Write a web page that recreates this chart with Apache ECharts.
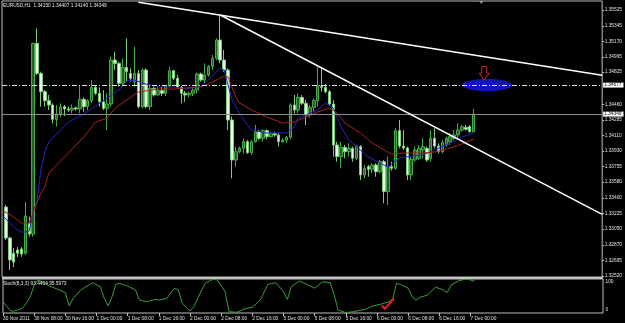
<!DOCTYPE html>
<html>
<head>
<meta charset="utf-8">
<script src="https://cdn.jsdelivr.net/npm/echarts@6/dist/echarts.min.js"></script>
<style>
html,body{margin:0;padding:0;background:#000;}
#chart{width:625px;height:323px;}
</style>
</head>
<body>
<div id="chart"></div>
<script>
// ---------- DATA ----------
const symbolName = 'EURUSD,H1';
const firstAxisLabel = '30 Nov 2011';
const dayNames = ['30 Nov','1 Dec','2 Dec','5 Dec','6 Dec','7 Dec','8 Dec'];
const slotCount = 155;           // hourly slots incl. empty future space
const firstBar = 1;              // first drawn candle slot
const lastLabelSlot = 120;       // last time label shown

const opens = [1.33299,1.32949,1.32776,1.32814,1.32825,1.32776,1.33115,1.32994,1.35148,1.34809,
1.34602,1.34501,1.34452,1.34290,1.34350,1.34433,1.34407,1.34395,1.34418,1.34407,
1.34516,1.34433,1.34501,1.34651,1.34584,1.34489,1.34414,1.34463,1.34960,1.34922,
1.34697,1.34877,1.34809,1.34715,1.34809,1.34433,1.34847,1.34433,1.34640,1.34565,
1.34614,1.34584,1.34666,1.34840,1.34753,1.34651,1.34584,1.34565,1.34584,1.34621,
1.34802,1.34734,1.34791,1.34885,1.34979,1.35186,1.34960,1.34847,1.34282,1.33830,
1.33924,1.33962,1.34037,1.33913,1.34037,1.34150,1.34075,1.34162,1.34094,1.34132,
1.34113,1.34037,1.34056,1.34086,1.34452,1.34395,1.34538,1.34471,1.34339,1.34425,
1.34501,1.34666,1.34651,1.34602,1.34463,1.34000,1.33868,1.33973,1.33924,1.33962,
1.33849,1.33981,1.33661,1.33755,1.33725,1.33774,1.33698,1.33811,1.33473,1.33755,
1.33736,1.34162,1.33988,1.33966,1.33661,1.33830,1.33849,1.33943,1.33962,1.33849,
1.34075,1.33988,1.33924,1.34000,1.34037,1.34075,1.34113,1.34169,1.34199,1.34207,
1.34150];
const highs = [1.33322,1.32964,1.32836,1.32847,1.32844,1.33356,1.33190,1.35156,1.35318,1.34828,
1.34621,1.34565,1.34471,1.34452,1.34471,1.34452,1.34433,1.34459,1.34433,1.34678,
1.34538,1.34516,1.34734,1.34678,1.34651,1.34621,1.34584,1.34998,1.35054,1.34941,
1.34979,1.35205,1.34866,1.35111,1.34847,1.34866,1.34866,1.34678,1.34659,1.34659,
1.34659,1.34678,1.34885,1.34847,1.34791,1.34666,1.34610,1.34602,1.34640,1.34817,
1.34817,1.34922,1.34904,1.35017,1.35205,1.35469,1.35073,1.34866,1.34320,1.33981,
1.33981,1.34075,1.34056,1.34056,1.34226,1.34169,1.34177,1.34177,1.34150,1.34150,
1.34139,1.34075,1.34101,1.34471,1.34565,1.34584,1.34565,1.34508,1.34452,1.34527,
1.34877,1.34866,1.34689,1.34621,1.34508,1.34037,1.34037,1.34000,1.34019,1.33981,
1.34000,1.34000,1.33774,1.33774,1.33793,1.33793,1.33830,1.33830,1.33868,1.33811,
1.34188,1.34282,1.34169,1.33981,1.33868,1.33981,1.34000,1.34075,1.33981,1.34169,
1.34188,1.34019,1.34056,1.34094,1.34132,1.34169,1.34245,1.34226,1.34226,1.34226,
1.34407];
const lows = [1.32927,1.32588,1.32621,1.32734,1.32738,1.32757,1.32964,1.32964,1.34791,1.34433,
1.34433,1.34395,1.34245,1.34207,1.34312,1.34327,1.34376,1.34358,1.34388,1.34358,
1.34376,1.34395,1.34471,1.34565,1.34433,1.34395,1.34169,1.34433,1.34847,1.34659,
1.34678,1.34715,1.34715,1.34659,1.34414,1.34414,1.34414,1.34395,1.34546,1.34553,
1.34553,1.34553,1.34651,1.34734,1.34640,1.34471,1.34489,1.34538,1.34553,1.34584,
1.34715,1.34697,1.34772,1.34847,1.34960,1.34922,1.34828,1.34169,1.33623,1.33755,
1.33906,1.33906,1.33898,1.33887,1.34026,1.34056,1.34037,1.34064,1.34083,1.34094,
1.33981,1.34026,1.34019,1.34064,1.34358,1.34358,1.34452,1.34226,1.34312,1.34376,
1.34433,1.34602,1.34584,1.34440,1.33868,1.33811,1.33736,1.33849,1.33868,1.33811,
1.33830,1.33604,1.33623,1.33642,1.33680,1.33642,1.33680,1.33341,1.33322,1.33710,
1.33717,1.33962,1.33943,1.33604,1.33604,1.33811,1.33830,1.33849,1.33811,1.33811,
1.33962,1.33906,1.33906,1.33981,1.34000,1.34056,1.34075,1.34150,1.34162,1.34139,
1.34140];
const closes = [1.32949,1.32701,1.32678,1.32776,1.32768,1.33198,1.32994,1.35148,1.34809,1.34602,
1.34501,1.34452,1.34290,1.34350,1.34433,1.34407,1.34395,1.34418,1.34407,1.34516,
1.34433,1.34501,1.34651,1.34584,1.34489,1.34414,1.34463,1.34960,1.34922,1.34697,
1.34877,1.34828,1.34753,1.34809,1.34433,1.34847,1.34433,1.34640,1.34565,1.34614,
1.34584,1.34666,1.34840,1.34753,1.34651,1.34584,1.34565,1.34584,1.34621,1.34802,
1.34734,1.34791,1.34885,1.34979,1.35186,1.34960,1.34847,1.34282,1.33830,1.33924,
1.33962,1.34037,1.33913,1.34037,1.34150,1.34075,1.34162,1.34094,1.34132,1.34113,
1.34037,1.34056,1.34086,1.34452,1.34395,1.34538,1.34471,1.34339,1.34425,1.34501,
1.34666,1.34651,1.34602,1.34463,1.34000,1.33868,1.33973,1.33924,1.33962,1.33849,
1.33981,1.33661,1.33736,1.33725,1.33774,1.33698,1.33811,1.33473,1.33755,1.33736,
1.34162,1.33988,1.33966,1.33661,1.33838,1.33943,1.33962,1.33981,1.33830,1.34075,
1.33988,1.33924,1.34026,1.34075,1.34094,1.34113,1.34169,1.34207,1.34177,1.34150,
1.34349];

const blueMaHours = [0,2,4,5,6,7,8,9,10,11,12,17,21,24,30,32,34,36,40,44,47,51,53,56,57,58,59,62,64,68,73,75,76,81,83,85,87,89,94,97,99,102,105,108,111,115,118,121];
const blueMaValues = [1.33208,1.33118,1.33039,1.33016,1.33016,1.33028,1.33242,1.33378,1.33717,1.33920,
1.34033,1.34259,1.34350,1.34440,1.34621,1.34723,1.34734,1.34700,1.34655,1.34655,
1.34632,1.34666,1.34734,1.34870,1.34847,1.34678,1.34508,1.34282,1.34169,1.34135,
1.34135,1.34203,1.34304,1.34395,1.34474,1.34418,1.34203,1.34056,1.33864,1.33796,
1.33751,1.33853,1.33875,1.33887,1.33943,1.34022,1.34090,1.34135];
const redMaHours = [0,3,5,7,8,9,10,11,12,17,21,24,27,29,32,35,40,44,47,51,54,57,58,59,60,61,64,68,72,75,78,81,84,86,88,92,95,99,100,103,105,108,111,115,118,121];
const redMaValues = [1.33265,1.33186,1.33118,1.33118,1.33242,1.33355,1.33457,1.33525,1.33683,1.33909,
1.34090,1.34259,1.34304,1.34418,1.34508,1.34598,1.34632,1.34632,1.34644,1.34655,
1.34711,1.34779,1.34768,1.34655,1.34542,1.34474,1.34395,1.34316,1.34248,1.34259,
1.34316,1.34372,1.34418,1.34361,1.34248,1.34135,1.34022,1.33920,1.33898,1.33909,
1.33909,1.33909,1.33920,1.33966,1.34011,1.34067];

const stochName = 'Stoch(8,3,3)';
const stochSignalLast = 95.5973;
const stochHours = [0,1,2,3,5,6,7,8,9,10,12,14,16,17,18,20,22,23,25,26,27,28,29,30,32,34,35,37,39,40,42,44,45,46,48,49,51,52,53,54,55,57,58,60,62,64,66,68,69,70,72,73,74,76,78,80,82,84,85,86,88,90,93,95,97,99,100,101,102,104,105,106,107,109,111,113,114,115,117,119,120,121];
const stochValues = [33,19,6,6,14,29,48,82,97,92,79,70,60,21,43,68,82,89,77,43,21,48,85,87,79,68,38,33,40,38,43,73,68,29,6,19,68,89,94,100,97,63,4,2,12,17,38,84,87,89,63,40,77,94,84,73,92,89,53,9,1,4,11,21,26,33,40,87,84,73,48,38,46,53,76,68,60,82,95,100,97,93.4404];

const priceTicks = [1.35525,1.35345,1.35170,1.34995,1.34825,1.34460,1.34285,1.34110,1.33930,1.33755,1.33580,1.33400,1.33225,1.33050,1.32870,1.32695,1.32520];
const stochTicks = [0,100];
const levelPrice = 1.34677;
const trendLine1 = [[35,1.35612],[154,1.34787]];
const trendLine2 = [[56,1.35469],[154,1.33216]];
const ellipseBox = [[118,1.34745],[131,1.34609]];
const arrowAnchor = [124,1.34887,1.34734]; // slot, top price, tip price
const checkAnchor = [98,12];
const shiftMarkerSlot = 123;

// ---------- BUILD ----------
const FONT = 'Liberation Sans, Arial, sans-serif';
const categories = [];
dayNames.forEach(d => { for (let h = 0; h < 24; h++) categories.push(d + ' ' + String(h).padStart(2,'0') + ':00'); });
categories.length = slotCount;

const candleData = categories.map((c, i) => {
  const k = i - firstBar;
  return (k >= 0 && k < opens.length) ? [opens[k], closes[k], lows[k], highs[k]] : '-';
});
const bidPrice = closes[closes.length - 1];
const pair = (hs, vs) => hs.map((h, i) => [h, vs[i]]);
const f5 = v => v.toFixed(5);
const lastIdx = opens.length - 1;
const titleText = symbolName + '  ' + [opens[lastIdx], highs[lastIdx], lows[lastIdx], closes[lastIdx]].map(f5).join(' ');
const stochText = stochName + ' ' + stochValues[stochValues.length-1].toFixed(4) + ' ' + stochSignalLast.toFixed(4);

const showSlot = idx => idx % 8 === 0 && idx <= lastLabelSlot;
const small = 4.8;

const chart = echarts.init(document.getElementById('chart'), null, {renderer:'canvas'});
const option = {
  backgroundColor: '#000',
  animation: false,
  textStyle: {fontFamily: FONT},
  title: [
    {text: titleText, left: 3, top: 3, padding: 0, textStyle: {color:'#e8e8e8', fontSize: small, fontWeight:'normal', fontFamily: FONT}},
    {text: stochText, left: 3, top: 281.5, padding: 0, textStyle: {color:'#e8e8e8', fontSize: small, fontWeight:'normal', fontFamily: FONT}}
  ],
  grid: [
    {left: 2, top: 1, width: 601, height: 276, show: true, borderColor: '#bdbdbd', borderWidth: 1, backgroundColor: 'transparent'},
    {left: 2, top: 279, width: 601, height: 34, show: true, borderColor: '#bdbdbd', borderWidth: 1, backgroundColor: 'transparent'}
  ],
  xAxis: [
    {type:'category', gridIndex:0, data: categories, boundaryGap:false, show:false},
    {type:'category', gridIndex:1, data: categories, boundaryGap:false,
     axisLine:{show:false},
     axisTick:{show:true, interval: showSlot, length:3, lineStyle:{color:'#bdbdbd'}},
     axisLabel:{show:true, interval: showSlot, align:'left', margin:3, fontSize: small, color:'#e0e0e0', fontFamily: FONT,
       formatter: (v, i) => i === 0 ? firstAxisLabel : v},
     splitLine:{show:false}}
  ],
  yAxis: [
    {type:'value', gridIndex:0, position:'right', min:1.32508, max:1.35627,
     axisLine:{show:false}, splitLine:{show:false},
     axisTick:{show:true, customValues: priceTicks, length:2, lineStyle:{color:'#bdbdbd'}},
     axisLabel:{show:true, customValues: priceTicks, formatter: v => f5(v), fontSize: small, color:'#e0e0e0', margin:2.5, fontFamily: FONT}},
    {type:'value', gridIndex:1, position:'right', min:0, max:100,
     axisLine:{show:false}, splitLine:{show:false},
     axisTick:{show:false},
     axisLabel:{show:true, customValues: stochTicks, fontSize: small, color:'#e0e0e0', margin:2.5, fontFamily: FONT,
       formatter: v => v === 100 ? '{a|100}' : '{b|0}',
       rich:{a:{fontSize: small, color:'#e0e0e0', padding:[5,0,0,0]}, b:{fontSize: small, color:'#e0e0e0', padding:[0,0,7,0]}}}}
  ],
  series: [
    {type:'candlestick', xAxisIndex:0, yAxisIndex:0, data: candleData, barWidth: 3,
     itemStyle:{color:'#255d25', color0:'#e4f6e4', borderColor:'#45ad45', borderColor0:'#7ccc7c', borderWidth:1},
     markLine:{symbol:'none', silent:true, animation:false, precision:5,
       data:[
         {yAxis: levelPrice, lineStyle:{color:'#e6e6e6', width:1, type:[5,2,1,2]},
          label:{show:true, position:'end', distance:1, formatter: f5(levelPrice), color:'#000', backgroundColor:'#fff', fontSize: small, padding:[0,2,0,1], fontFamily: FONT}},
         {yAxis: bidPrice, lineStyle:{color:'#8c8c8c', width:1, type:'solid'},
          label:{show:true, position:'end', distance:1, formatter: f5(bidPrice), color:'#000', backgroundColor:'#fff', fontSize: small, padding:[0,2,0,1], fontFamily: FONT}},
         [{coord: trendLine1[0], lineStyle:{color:'#ffffff', width:1.5, type:'solid'}, label:{show:false}}, {coord: trendLine1[1]}],
         [{coord: trendLine2[0], lineStyle:{color:'#ffffff', width:1.5, type:'solid'}, label:{show:false}}, {coord: trendLine2[1]}]
       ]}},
    {type:'line', xAxisIndex:0, yAxisIndex:0, data: pair(blueMaHours, blueMaValues), symbol:'none', showSymbol:false,
     lineStyle:{color:'#2424c8', width:1}, z:3},
    {type:'line', xAxisIndex:0, yAxisIndex:0, data: pair(redMaHours, redMaValues), symbol:'none', showSymbol:false,
     lineStyle:{color:'#a82222', width:1}, z:3},
    {type:'line', xAxisIndex:1, yAxisIndex:1, data: pair(stochHours, stochValues), symbol:'none', showSymbol:false,
     lineStyle:{color:'#3a9e3a', width:1}, z:3}
  ]
};
chart.setOption(option);

// ---------- ANNOTATIONS (anchored in data coordinates) ----------
const px = (g, p) => chart.convertToPixel({xAxisIndex:g, yAxisIndex:g}, p);
const e0 = px(0, ellipseBox[0]), e1 = px(0, ellipseBox[1]);
const aTop = px(0, [arrowAnchor[0], arrowAnchor[1]]), aTip = px(0, [arrowAnchor[0], arrowAnchor[2]]);
const ax = aTop[0] - 1, ay0 = aTop[1], ay2 = aTip[1], ay1 = ay0 + (ay2 - ay0) * 0.5;
const ck = px(1, checkAnchor);
const sm = px(0, [shiftMarkerSlot, 1.35]);
chart.setOption({
  graphic: [
    {type:'rect', z:5, shape:{x:2, y:277, width:601, height:2}, style:{fill:'#c4c4c4'}},
    {type:'ellipse', z:1, shape:{cx:(e0[0]+e1[0])/2, cy:(e0[1]+e1[1])/2, rx:Math.abs(e1[0]-e0[0])/2, ry:Math.abs(e1[1]-e0[1])/2}, style:{fill:'#1414bc'}},
    {type:'polygon', z:10, shape:{points:[[ax-2.5,ay0],[ax+2.5,ay0],[ax+2.5,ay1],[ax+5,ay1],[ax,ay2],[ax-5,ay1],[ax-2.5,ay1]]},
     style:{fill:'none', stroke:'#d42020', lineWidth:1}},
    {type:'polyline', z:10, shape:{points:[[ck[0]-3,ck[1]-3.5],[ck[0],ck[1]],[ck[0]+9,ck[1]-10.5]]},
     style:{stroke:'#e02020', lineWidth:2.2, fill:'none'}},
    {type:'polygon', z:10, shape:{points:[[sm[0]-2,1],[sm[0]+2,1],[sm[0],4]]}, style:{fill:'#9a9a9a'}}
  ]
});
</script>
</body>
</html>
